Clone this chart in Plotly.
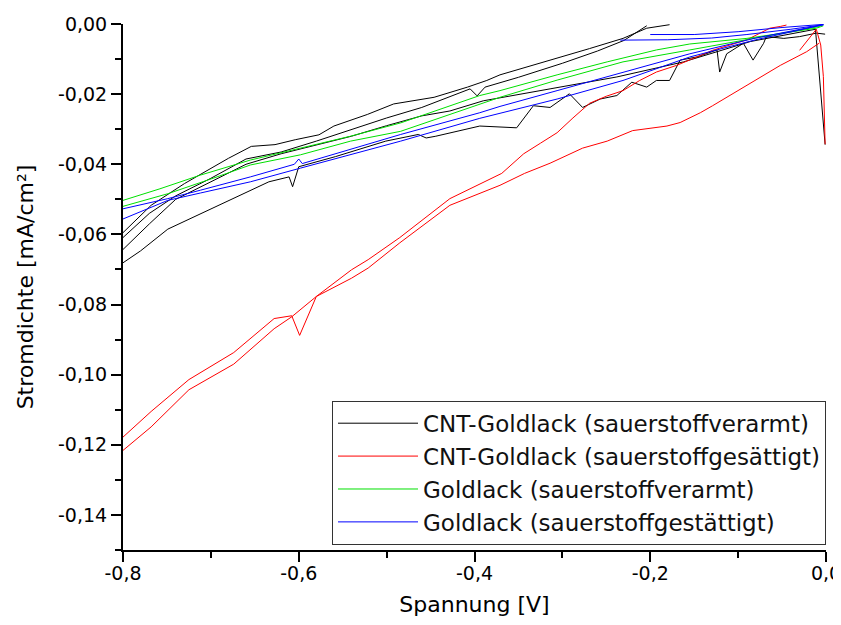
import plotly.graph_objects as go

# ---------------- data ----------------
# CNT-Goldlack (sauerstoffverarmt) - black, several scan branches
cnt_arm_low_x = [-0.800, -0.780, -0.749, -0.733, -0.710, -0.672, -0.634, -0.611, -0.607, -0.600,
                 -0.558, -0.501, -0.464, -0.455, -0.444, -0.394, -0.352, -0.333, -0.314, -0.292,
                 -0.277, -0.257, -0.238, -0.221, -0.204, -0.193, -0.178, -0.166, -0.147, -0.124,
                 -0.121, -0.113, -0.094, -0.083, -0.071, -0.068, -0.048, -0.030, -0.011, -0.001]
cnt_arm_low_y = [-0.0681, -0.0647, -0.0585, -0.0566, -0.0540, -0.0495, -0.0450, -0.0436, -0.0464, -0.0407,
                 -0.0378, -0.0334, -0.0315, -0.0325, -0.0320, -0.0291, -0.0296, -0.0233, -0.0238, -0.0199,
                 -0.0238, -0.0214, -0.0204, -0.0166, -0.0180, -0.0161, -0.0161, -0.0103, -0.0094, -0.0074,
                 -0.0137, -0.0085, -0.0055, -0.0103, -0.0055, -0.0036, -0.0041, -0.0036, -0.0026, -0.0029]

cnt_arm_mid_x = [-0.800, -0.770, -0.740, -0.700, -0.660, -0.620, -0.580, -0.540, -0.500, -0.460,
                 -0.428, -0.390, -0.314, -0.238, -0.162, -0.086, -0.012, -0.001]
cnt_arm_mid_y = [-0.0643, -0.0570, -0.0500, -0.0450, -0.0400, -0.0370, -0.0345, -0.0320, -0.0290, -0.0262,
                 -0.0248, -0.0219, -0.0185, -0.0151, -0.0108, -0.0050, -0.0015, -0.0344]

cnt_arm_top1_x = [-0.800, -0.768, -0.730, -0.700, -0.680, -0.654, -0.627, -0.604, -0.577, -0.560,
                  -0.522, -0.492, -0.446, -0.408, -0.386, -0.371, -0.306, -0.269, -0.231, -0.204, -0.178]
cnt_arm_top1_y = [-0.0595, -0.0517, -0.0455, -0.0412, -0.0383, -0.0349, -0.0344, -0.0330, -0.0316, -0.0291,
                  -0.0258, -0.0228, -0.0209, -0.0180, -0.0161, -0.0145, -0.0098, -0.0070, -0.0041, -0.0012, -0.0002]

cnt_arm_top2_x = [-0.800, -0.770, -0.740, -0.700, -0.660, -0.620, -0.580, -0.540, -0.500, -0.460,
                  -0.420, -0.405, -0.397, -0.388, -0.350, -0.300, -0.260, -0.230, -0.204]
cnt_arm_top2_y = [-0.0609, -0.0540, -0.0490, -0.0440, -0.0385, -0.0365, -0.0334, -0.0300, -0.0268, -0.0238,
                  -0.0200, -0.0185, -0.0205, -0.0180, -0.0152, -0.0112, -0.0077, -0.0047, -0.0005]

# CNT-Goldlack (sauerstoffgesaettigt) - red
cnt_sat_a_x = [-0.800, -0.768, -0.725, -0.674, -0.628, -0.608, -0.599, -0.580, -0.540, -0.521,
               -0.485, -0.428, -0.369, -0.344, -0.325, -0.306, -0.288, -0.269, -0.250, -0.231,
               -0.212, -0.193, -0.170, -0.155, -0.129, -0.090, -0.064, -0.052, -0.045]
cnt_sat_a_y = [-0.1178, -0.1105, -0.1014, -0.0937, -0.0840, -0.0832, -0.0888, -0.0777, -0.0701, -0.0672,
               -0.0609, -0.0498, -0.0426, -0.0370, -0.0340, -0.0310, -0.0268, -0.0226, -0.0206, -0.0190,
               -0.0161, -0.0137, -0.0118, -0.0103, -0.0075, -0.0045, -0.0012, -0.0007, -0.0003]

cnt_sat_b_x = [-0.800, -0.768, -0.725, -0.674, -0.628, -0.608, -0.580, -0.540, -0.521, -0.485,
               -0.428, -0.371, -0.343, -0.314, -0.277, -0.249, -0.220, -0.181, -0.166, -0.143,
               -0.129, -0.090, -0.052, -0.022, -0.008]
cnt_sat_b_y = [-0.1216, -0.1149, -0.1043, -0.0970, -0.0869, -0.0835, -0.0777, -0.0725, -0.0696, -0.0624,
               -0.0517, -0.0460, -0.0426, -0.0397, -0.0354, -0.0334, -0.0304, -0.0291, -0.0281, -0.0253,
               -0.0233, -0.0176, -0.0118, -0.0079, -0.0055]

cnt_sat_end_x = [-0.030, -0.011, -0.006, -0.003, -0.001]
cnt_sat_end_y = [-0.0075, -0.0015, -0.0060, -0.0150, -0.0343]

# Goldlack (sauerstoffverarmt) - green
gold_arm_1_x = [-0.800, -0.758, -0.712, -0.655, -0.598, -0.541, -0.484, -0.394, -0.371, -0.306,
                -0.249, -0.193, -0.155, -0.090, -0.011, -0.003]
gold_arm_1_y = [-0.0503, -0.0470, -0.0431, -0.0388, -0.0354, -0.0320, -0.0282, -0.0204, -0.0190, -0.0145,
                -0.0108, -0.0074, -0.0057, -0.0041, -0.0012, -0.0005]

gold_arm_2_x = [-0.800, -0.749, -0.693, -0.655, -0.598, -0.541, -0.484, -0.394, -0.371, -0.306,
                -0.231, -0.155, -0.090, -0.007]
gold_arm_2_y = [-0.0520, -0.0484, -0.0436, -0.0402, -0.0373, -0.0334, -0.0306, -0.0230, -0.0209, -0.0160,
                -0.0108, -0.0074, -0.0045, -0.0007]

# Goldlack (sauerstoffgestaettigt) - blue
gold_sat_1_x = [-0.800, -0.749, -0.712, -0.655, -0.605, -0.600, -0.596, -0.541, -0.484, -0.394,
                -0.371, -0.306, -0.231, -0.155, -0.080, -0.003]
gold_sat_1_y = [-0.0527, -0.0498, -0.0474, -0.0436, -0.0400, -0.0385, -0.0398, -0.0358, -0.0315, -0.0253,
                -0.0235, -0.0190, -0.0137, -0.0085, -0.0040, -0.0002]

gold_sat_2_x = [-0.800, -0.749, -0.712, -0.655, -0.598, -0.541, -0.484, -0.394, -0.306, -0.231,
                -0.155, -0.080, -0.003]
gold_sat_2_y = [-0.0556, -0.0503, -0.0482, -0.0450, -0.0411, -0.0373, -0.0334, -0.0269, -0.0214, -0.0161,
                -0.0094, -0.0045, -0.0002]

gold_sat_3_x = [-0.234, -0.180, -0.130, -0.090, -0.040, -0.003]
gold_sat_3_y = [-0.0046, -0.0045, -0.0040, -0.0030, -0.0015, -0.0002]

gold_sat_4_x = [-0.200, -0.150, -0.100, -0.050, -0.003]
gold_sat_4_y = [-0.0030, -0.0030, -0.0022, -0.0010, -0.0001]

series_names = ["CNT-Goldlack (sauerstoffverarmt)",
                "CNT-Goldlack (sauerstoffgesättigt)",
                "Goldlack (sauerstoffverarmt)",
                "Goldlack (sauerstoffgestättigt)"]
series_colors = ["#000000", "#ff0000", "#00e000", "#0000ff"]

x_ticks = [-0.8, -0.6, -0.4, -0.2, 0.0]
x_tick_labels = ["-0,8", "-0,6", "-0,4", "-0,2", "0,0"]
y_ticks = [0.0, -0.02, -0.04, -0.06, -0.08, -0.10, -0.12, -0.14]
y_tick_labels = ["0,00", "-0,02", "-0,04", "-0,06", "-0,08", "-0,10", "-0,12", "-0,14"]


def join(*segs):
    xs, ys = [], []
    for i in range(0, len(segs), 2):
        if xs:
            xs.append(None)
            ys.append(None)
        xs.extend(segs[i])
        ys.extend(segs[i + 1])
    return xs, ys


series = [
    join(cnt_arm_low_x, cnt_arm_low_y, cnt_arm_mid_x, cnt_arm_mid_y,
         cnt_arm_top1_x, cnt_arm_top1_y, cnt_arm_top2_x, cnt_arm_top2_y),
    join(cnt_sat_a_x, cnt_sat_a_y, cnt_sat_b_x, cnt_sat_b_y, cnt_sat_end_x, cnt_sat_end_y),
    join(gold_arm_1_x, gold_arm_1_y, gold_arm_2_x, gold_arm_2_y),
    join(gold_sat_1_x, gold_sat_1_y, gold_sat_2_x, gold_sat_2_y,
         gold_sat_3_x, gold_sat_3_y, gold_sat_4_x, gold_sat_4_y),
]

fig = go.Figure()
for (xs, ys), name, col in zip(series, series_names, series_colors):
    fig.add_trace(go.Scatter(x=xs, y=ys, mode="lines", name=name,
                             line=dict(color=col, width=1)))

axis_common = dict(showline=True, linecolor="black", linewidth=2, showgrid=False, zeroline=False,
                   ticks="outside", ticklen=10, tickwidth=2, tickcolor="black",
                   tickfont=dict(size=19, color="black"), mirror=False, automargin=False,
                   ticklabeloverflow="allow")

# the page body adds an 8px offset, so margins are shifted to keep the plot in place
fig.update_layout(
    width=841, height=609,
    margin=dict(l=115, r=23, t=16, b=67),
    paper_bgcolor="white", plot_bgcolor="white",
    font=dict(family="DejaVu Sans", color="black"),
    showlegend=True,
    legend=dict(x=1.0, xanchor="right", y=0.01, yanchor="bottom",
                bgcolor="white", bordercolor="#333333", borderwidth=1,
                itemwidth=80,
                font=dict(size=23, color="#111111"), tracegroupgap=0),
    xaxis=dict(range=[-0.8, 0.0], tickvals=x_ticks, ticktext=x_tick_labels,
               ticklabelstandoff=-5,
               minor=dict(dtick=0.1, tick0=0, ticks="outside", ticklen=6, tickwidth=2, tickcolor="black"),
               title=dict(text="Spannung [V]", font=dict(size=22), standoff=21),
               **axis_common),
    yaxis=dict(range=[-0.15, 0.0], tickvals=y_ticks, ticktext=y_tick_labels,
               minor=dict(dtick=0.01, tick0=0, ticks="outside", ticklen=6, tickwidth=2, tickcolor="black"),
               title=dict(text="Stromdichte [mA/cm²]", font=dict(size=22), standoff=18),
               **axis_common),
)

fig.write_html("out.html")
